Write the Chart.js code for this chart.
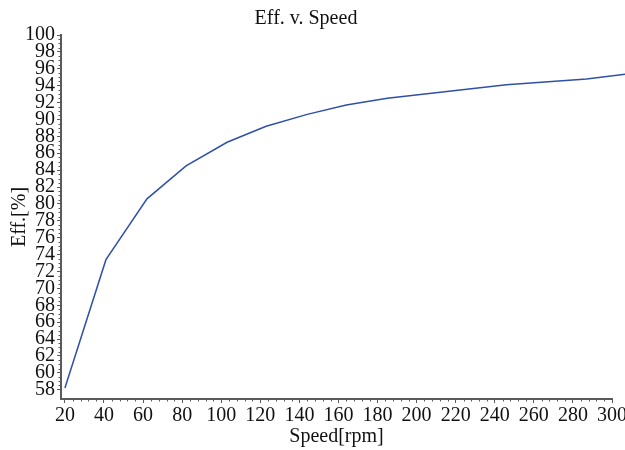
<!DOCTYPE html>
<html lang="en">
<head>
    <meta charset="UTF-8">
    <title>Eff. v. Speed</title>
    <style>
        html, body { margin: 0; padding: 0; background: #ffffff; }
        .chart-box { position: relative; width: 625px; height: 450px; }
    </style>
</head>
<body>
    <div class="chart-box">
        <canvas id="effChart"></canvas>
    </div>

    <script src="https://cdn.jsdelivr.net/npm/chart.js"></script>
    <script>
        // data
        const speedRpm = [20, 41, 62, 82, 103, 123, 144, 164, 185, 246, 287, 308];
        const efficiency = [58.2, 73.4, 80.6, 84.5, 87.3, 89.2, 90.6, 91.7, 92.5, 94.1, 94.8, 95.4];
        const xTicks = [20, 40, 60, 80, 100, 120, 140, 160, 180, 200, 220, 240, 260, 280, 300];
        const yTicks = [58, 60, 62, 64, 66, 68, 70, 72, 74, 76, 78, 80, 82, 84, 86, 88, 90, 92, 94, 96, 98, 100];

        const axisColor = '#5a5a5a';
        const serif = "'Liberation Serif', 'DejaVu Serif', serif";

        // small minor ticks along both axes
        const minorTicks = {
            id: 'minorTicks',
            afterDraw(chart) {
                const ctx = chart.ctx;
                const x = chart.scales.x, y = chart.scales.y;
                ctx.save();
                ctx.strokeStyle = axisColor;
                ctx.lineWidth = 1;
                ctx.beginPath();
                for (let v = 20; v <= 300; v += 4) {
                    if (v % 20 === 0) continue;
                    const px = Math.round(x.getPixelForValue(v)) + 0.5;
                    ctx.moveTo(px, y.bottom);
                    ctx.lineTo(px, y.bottom + 2.5);
                }
                for (let v = 58; v <= 100; v += 0.5) {
                    if (v % 2 === 0) continue;
                    const py = Math.round(y.getPixelForValue(v)) + 0.5;
                    ctx.moveTo(x.left, py);
                    ctx.lineTo(x.left - 2.5, py);
                }
                ctx.stroke();
                ctx.restore();
            }
        };

        const ctx = document.getElementById('effChart').getContext('2d');
        const chart = new Chart(ctx, {
            type: 'line',
            data: {
                datasets: [{
                    data: speedRpm.map((s, i) => ({ x: s, y: efficiency[i] })),
                    borderColor: '#3050a8',
                    borderWidth: 1.5,
                    pointRadius: 0,
                    tension: 0,
                    fill: false,
                    clip: false
                }]
            },
            options: {
                responsive: true,
                maintainAspectRatio: false,
                animation: false,
                layout: { padding: { left: 0, right: 13, top: 0, bottom: 0 } },
                plugins: {
                    legend: { display: false },
                    tooltip: { enabled: false },
                    title: {
                        display: true,
                        text: 'Eff. v. Speed',
                        color: '#111111',
                        font: { family: serif, size: 20, weight: 'normal' },
                        padding: { top: 7, bottom: 4 }
                    }
                },
                scales: {
                    x: {
                        type: 'linear',
                        min: 18,
                        max: 300,
                        afterBuildTicks: (scale) => { scale.ticks = xTicks.map(v => ({ value: v })); },
                        afterFit: (scale) => {
                            scale.height = 51;
                            scale.paddingRight = 13;  // let the "300" label run to the edge
                        },
                        border: { display: true, color: axisColor, width: 2 },
                        grid: { drawOnChartArea: false, drawTicks: true, tickLength: 4, color: axisColor },
                        ticks: {
                            autoSkip: false,
                            maxRotation: 0,
                            padding: 1,
                            color: '#111111',
                            font: { family: serif, size: 20 }
                        },
                        title: {
                            display: true,
                            text: 'Speed[rpm]',
                            color: '#111111',
                            font: { family: serif, size: 20 },
                            padding: { top: 0, bottom: 1 }
                        }
                    },
                    y: {
                        type: 'linear',
                        min: 56.9,
                        max: 100,
                        afterBuildTicks: (scale) => { scale.ticks = yTicks.map(v => ({ value: v })); },
                        afterFit: (scale) => { scale.width = 61; },
                        border: { display: true, color: axisColor, width: 2 },
                        grid: { drawOnChartArea: false, drawTicks: true, tickLength: 4, color: axisColor },
                        ticks: {
                            autoSkip: false,
                            padding: 2,
                            color: '#111111',
                            font: { family: serif, size: 20, lineHeight: 1 }
                        },
                        title: {
                            display: true,
                            text: 'Eff.[%]',
                            color: '#111111',
                            font: { family: serif, size: 20 },
                            padding: { top: 8, bottom: 0 }
                        }
                    }
                }
            },
            plugins: [minorTicks]
        });
    </script>
</body>
</html>
